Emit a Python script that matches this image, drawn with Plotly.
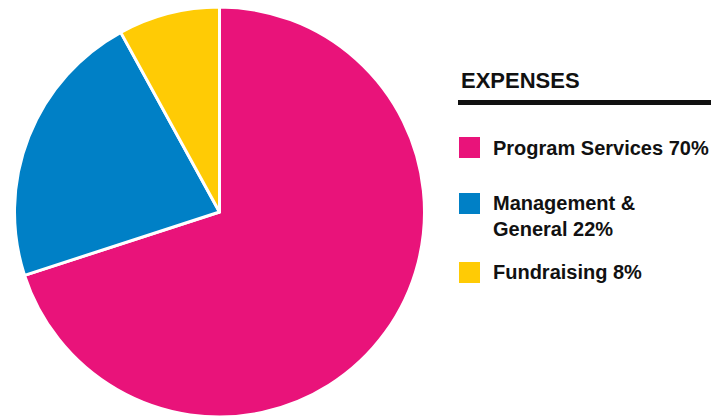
import plotly.graph_objects as go

categories = ["Program Services", "Management & General", "Fundraising"]
legend_labels = ["Program Services 70%", "Management &<br>General 22%", "Fundraising 8%"]
values = [70, 22, 8]
colors = ["#E9137A", "#0080C6", "#FFCB05"]
title_text = "EXPENSES"

W, H = 722, 417
def px(x):
    return x / W
def py(y):
    return 1 - y / H

fig = go.Figure()
fig.add_trace(go.Pie(
    labels=categories,
    values=values,
    sort=False,
    direction="clockwise",
    rotation=0,
    marker=dict(colors=colors, line=dict(color="white", width=3)),
    textinfo="none",
    hoverinfo="label+percent",
    showlegend=False,
    domain=dict(x=[px(14), px(425)], y=[py(417), py(7)]),
))

FONT = "Liberation Sans"
annotations = [dict(
    text="<b>" + title_text + "</b>", x=px(459), y=py(80), xref="paper", yref="paper",
    xanchor="left", yanchor="middle", showarrow=False,
    font=dict(family=FONT, size=22, color="#111111"),
)]
shapes = [dict(type="line", xref="paper", yref="paper",
               x0=px(458), x1=px(711), y0=py(102.5), y1=py(102.5),
               line=dict(color="#111111", width=5))]

square_tops = [137, 193, 262]
text_centers = [148, 216, 272]
for lab, col, top, tc in zip(legend_labels, colors, square_tops, text_centers):
    shapes.append(dict(type="rect", xref="paper", yref="paper",
                       x0=px(459), x1=px(480), y0=py(top + 21), y1=py(top),
                       fillcolor=col, line=dict(width=0)))
    annotations.append(dict(
        text="<b>" + lab + "</b>", x=px(491), y=py(tc), xref="paper", yref="paper",
        xanchor="left", yanchor="middle", align="left", showarrow=False,
        font=dict(family=FONT, size=20, color="#111111"),
    ))

fig.update_layout(
    width=W, height=H,
    margin=dict(l=0, r=0, t=0, b=0),
    paper_bgcolor="white", plot_bgcolor="white",
    annotations=annotations, shapes=shapes,
)
fig.write_html("out.html", config={"displayModeBar": False},
               post_script="document.body.style.margin='0px';")
